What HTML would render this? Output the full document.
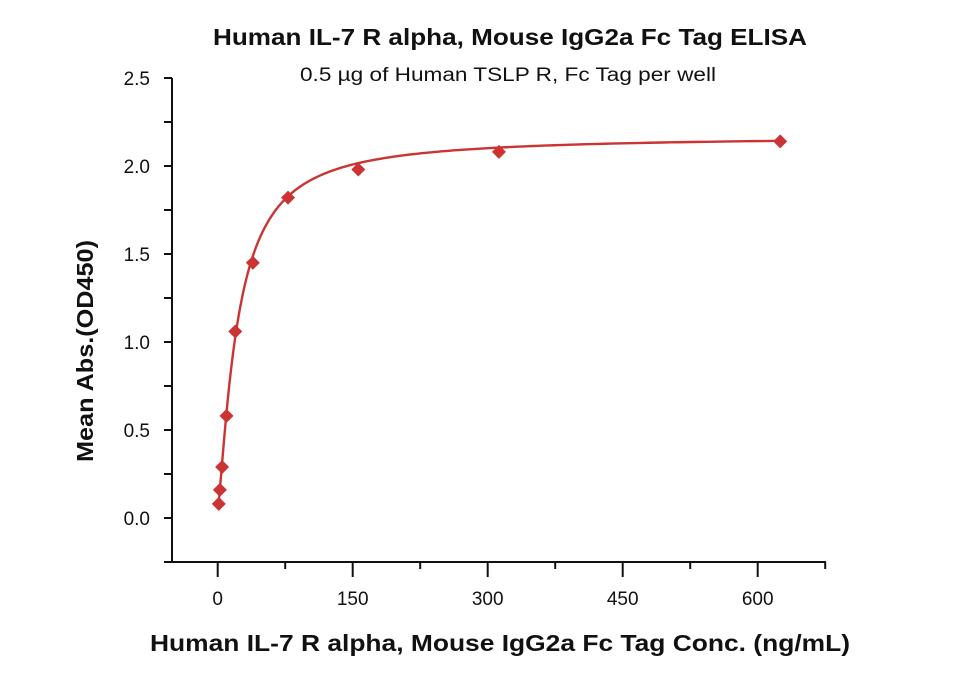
<!DOCTYPE html>
<html><head><meta charset="utf-8"><style>
body{margin:0;background:#fff;}
svg{display:block;font-family:"Liberation Sans",sans-serif;}
</style></head><body>
<svg id="c" width="960" height="674">
<text x="510" y="45" text-anchor="middle" font-size="23" font-weight="bold" fill="#111" textLength="594" lengthAdjust="spacingAndGlyphs">Human IL-7 R alpha, Mouse IgG2a Fc Tag ELISA</text>
<text x="508" y="81" text-anchor="middle" font-size="19" fill="#111" textLength="416" lengthAdjust="spacingAndGlyphs">0.5 µg of Human TSLP R, Fc Tag per well</text>
<text transform="translate(93,351) rotate(-90)" text-anchor="middle" font-size="23" font-weight="bold" fill="#111" textLength="222" lengthAdjust="spacingAndGlyphs">Mean Abs.(OD450)</text>
<text x="500" y="651" text-anchor="middle" font-size="23" font-weight="bold" fill="#111" textLength="700" lengthAdjust="spacingAndGlyphs">Human IL-7 R alpha, Mouse IgG2a Fc Tag Conc. (ng/mL)</text>
<g id="axes"></g><g id="marks"></g>
</svg>
<script>
const concentrations=[625,312.5,156.25,78.13,39.06,19.53,9.77,4.88,2.44,1.22];
const absorbance=[2.14,2.08,1.98,1.82,1.45,1.06,0.58,0.29,0.16,0.08];
const xTickLabels=[0,150,300,450,600];
const yTickLabels=["0.0","0.5","1.0","1.5","2.0","2.5"];
const fitParams={bottom:0.05,top:2.17,ec50:22,hill:1.3};
const NS="http://www.w3.org/2000/svg";
const xs=v=>217.7+v*0.9;
const ys=v=>518-v*176;
function mk(t,a,p){const e=document.createElementNS(NS,t);for(const k in a)e.setAttribute(k,a[k]);p.appendChild(e);return e;}
const ax=document.getElementById('axes'),mg=document.getElementById('marks');
const yl=mk('line',{x1:172,y1:ys(2.5),x2:172,y2:562,stroke:'#111','stroke-width':2},ax);


const xl=mk('line',{x1:171,y1:562,x2:826,y2:562,stroke:'#111','stroke-width':2},ax);


for(let v=0;v<=675;v+=75){const maj=v%150===0;const t=mk('line',{x1:xs(v),y1:562,x2:xs(v),y2:maj?577:569,stroke:'#111','stroke-width':2},ax);

}
xTickLabels.forEach(v=>{const t=mk('text',{x:xs(v),y:605,'text-anchor':'middle','font-size':19,fill:'#111'},ax);t.textContent=v;

});
for(let i=-1;i<=10;i++){const v=i*0.25;const t=mk('line',{x1:164,y1:ys(v),x2:172,y2:ys(v),stroke:'#111','stroke-width':2},ax);

}
yTickLabels.forEach(s=>{const t=mk('text',{x:150,y:ys(parseFloat(s))+7,'text-anchor':'end','font-size':19,fill:'#111'},ax);t.textContent=s;

});
const f=x=>fitParams.bottom+(fitParams.top-fitParams.bottom)/(1+Math.pow(fitParams.ec50/x,fitParams.hill));
let d='';const mn=Math.min(...concentrations),mx=Math.max(...concentrations);
for(let i=0;i<=400;i++){const x=mn*Math.pow(mx/mn,i/400);d+=(i?'L':'M')+xs(x).toFixed(2)+','+ys(f(x)).toFixed(2);}
const cv=mk('path',{d:d,fill:'none',stroke:'#cc3333','stroke-width':2.4},mg);


concentrations.forEach((c,i)=>{const x=xs(c),y=ys(absorbance[i]);
const p=mk('path',{d:`M${x},${y-7}L${x+7},${y}L${x},${y+7}L${x-7},${y}Z`,fill:'#cc3333'},mg);

});
</script>
</body></html>
